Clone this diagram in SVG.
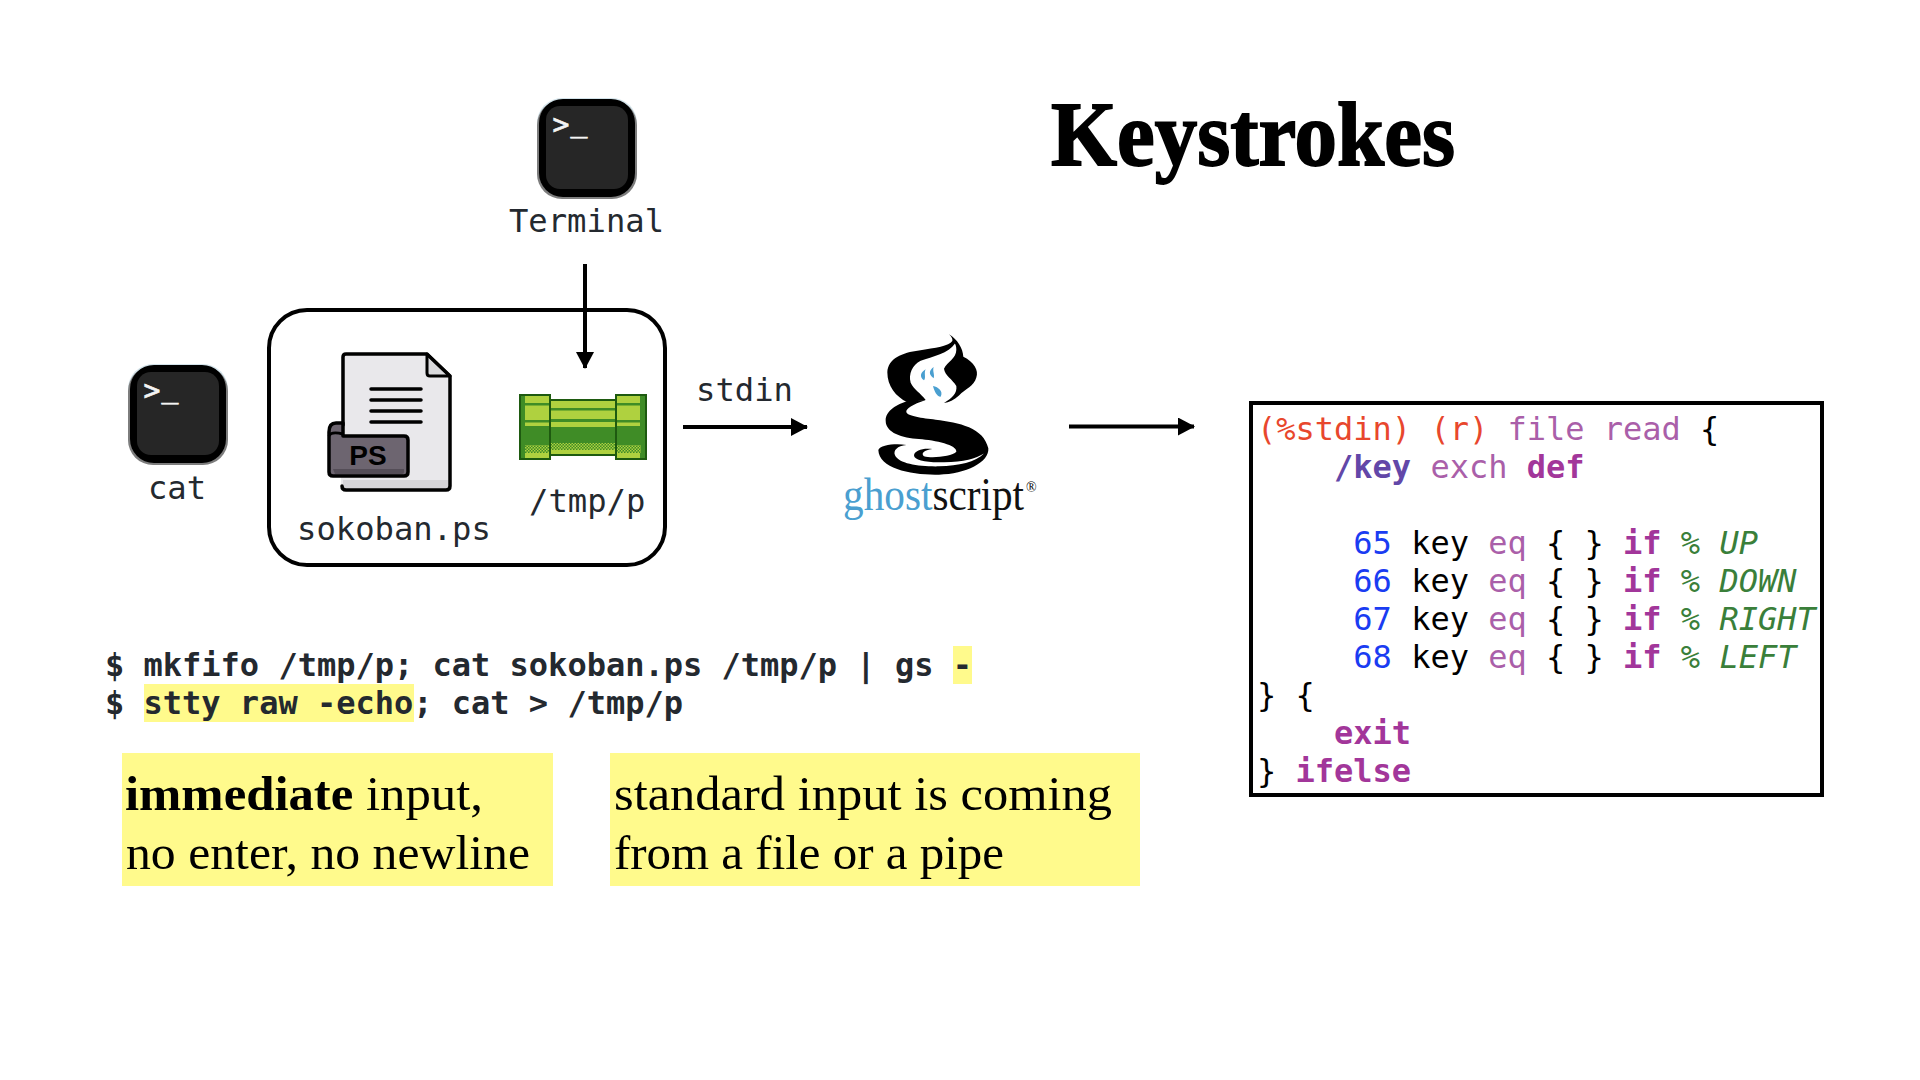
<svg xmlns="http://www.w3.org/2000/svg" width="1920" height="1080" viewBox="0 0 1920 1080">
<style>
.m{font-family:"DejaVu Sans Mono","Liberation Mono",monospace;font-size:32.2px;fill:#24292f;white-space:pre}
.b{font-weight:700}
.s{font-family:"Liberation Serif","Times New Roman",serif;fill:#000}
.c{font-family:"DejaVu Sans Mono","Liberation Mono",monospace;font-size:32px;fill:#000;white-space:pre}
.red{fill:#e8472d}.op{fill:#aa5fa9}.kw{fill:#a2369a;font-weight:700}.nm{fill:#6247a8;font-weight:700}.num{fill:#1a3cf2}.gr{fill:#3a7f3a}.it{fill:#3a7f3a;font-style:italic}
.hl{fill:#fffa8c}
.ln{stroke:#000;stroke-width:4;fill:none}
</style>
<defs>
<marker id="ah" markerUnits="userSpaceOnUse" markerWidth="18" markerHeight="18" refX="16" refY="9" orient="auto"><path d="M0,0L17,9L0,18Z" fill="#000"/></marker>
<pattern id="dith" width="3" height="3" patternUnits="userSpaceOnUse"><rect width="3" height="3" fill="#3f8c26"/><rect width="1.5" height="1.5" fill="#afd13f"/><rect x="1.5" y="1.5" width="1.5" height="1.5" fill="#afd13f"/></pattern>
<g id="termIcon">
<rect x="1" y="-1" width="100" height="99" rx="25" fill="#d3e3ea"/>
<rect x="1" y="1" width="100" height="99" rx="25" fill="#7d7d7d"/>
<rect x="3" y="0" width="96" height="98" rx="24" fill="#000"/>
<rect x="10" y="7" width="82" height="83" rx="14" fill="#262626"/>
<text font-family="DejaVu Sans Mono,monospace" font-size="28" fill="#f4f4f4" stroke="#f4f4f4" stroke-width=".7"><tspan x="16.5" y="35">&gt;</tspan><tspan x="34.5" y="32">_</tspan></text>
</g>
</defs>
<rect width="1920" height="1080" fill="#fff"/>

<g id="title"><text class="s" x="1051" y="165" font-size="92" font-weight="700" stroke="#000" stroke-width="1.8" textLength="404" lengthAdjust="spacingAndGlyphs">Keystrokes</text></g>

<g id="terminal"><use href="#termIcon" x="536" y="99"/><text class="m" x="586.5" y="231.5" text-anchor="middle">Terminal</text></g>
<g id="cat"><use href="#termIcon" x="127" y="365"/><text class="m" x="177" y="498.5" text-anchor="middle">cat</text></g>

<g id="group-box"><rect x="269" y="310" width="396" height="255" rx="38" fill="none" stroke="#000" stroke-width="4"/></g>

<g id="sokoban" transform="translate(-1 0)">
<path d="M344,356Q344,353 347,353H428L451,376V487Q451,490 448,490H348Q343,490 342,486L342,357Z" fill="#e9e8eb"/>
<path d="M344,480H451V487Q451,490 448,490H348L344,486Z" fill="#d5d4d8"/>
<path d="M428,354L451,376H431Q428,376 428,373Z" fill="#d9d9dc" stroke="#000" stroke-width="3" stroke-linejoin="round"/>
<path d="M344,425V357Q344,354 347,354H428L451,376V486Q451,490 447,490H347Q343,490 343,486" fill="none" stroke="#000" stroke-width="3.5" stroke-linecap="round" stroke-linejoin="round"/>
<path d="M372,389H422M372,400H422M372,411H422M372,422H422" stroke="#000" stroke-width="3.5" stroke-linecap="round"/>
<path d="M344,423H337Q330,423 330,432V472Q330,476 334,476H405Q409,476 409,472V440Q409,436 405,436H344Z" fill="#6d6570" stroke="#000" stroke-width="3.5" stroke-linejoin="round"/>
<path d="M330,436Q332,431 344,434" fill="none" stroke="#000" stroke-width="3"/>
<path d="M334,469H405V472Q405,474 403,474H336Z" fill="#544d57"/>
<text x="369" y="465" text-anchor="middle" font-family="Liberation Sans,sans-serif" font-size="28" font-weight="700" fill="#000">PS</text>
<text class="m" x="298" y="540">sokoban.ps</text>
</g>

<g id="pipe">
<rect x="550" y="400" width="66" height="55" fill="#afd13f" stroke="#1e5a10" stroke-width="2"/>
<rect x="551" y="408" width="64" height="2.5" fill="#3f8c26"/>
<rect x="551" y="419" width="64" height="3" fill="#3f8c26"/>
<rect x="551" y="427" width="64" height="17" fill="#3f8c26"/>
<rect x="551" y="443" width="64" height="7" fill="url(#dith)"/>
<g id="flangeL">
<rect x="520" y="395" width="30" height="64" fill="#afd13f" stroke="#1e5a10" stroke-width="2"/>
<rect x="521" y="396" width="4" height="62" fill="#3f8c26"/>
<rect x="525" y="403" width="24" height="2.5" fill="#3f8c26"/>
<rect x="525" y="420" width="24" height="2.5" fill="#3f8c26"/>
<rect x="521" y="426" width="28" height="20" fill="#3f8c26"/>
<rect x="525" y="445" width="24" height="8" fill="url(#dith)"/>
</g>
<g id="flangeR">
<rect x="616" y="395" width="30" height="64" fill="#afd13f" stroke="#1e5a10" stroke-width="2"/>
<rect x="640" y="396" width="5" height="62" fill="#3f8c26"/>
<rect x="617" y="403" width="24" height="2.5" fill="#3f8c26"/>
<rect x="617" y="420" width="24" height="2.5" fill="#3f8c26"/>
<rect x="617" y="426" width="28" height="20" fill="#3f8c26"/>
<rect x="617" y="445" width="24" height="8" fill="url(#dith)"/>
</g>
<text class="m" x="529" y="512">/tmp/p</text>
</g>

<g id="ghostscript">
<g transform="translate(869 329) scale(.3333 .346)">
<path fill="#000" d="M240,15C265,30 282,55 283,80C315,95 330,120 322,140C315,165 290,172 270,192C255,205 240,212 225,214C250,200 265,185 262,165C250,145 228,135 225,115C235,95 262,85 262,60C262,52 260,46 258,42C240,70 190,80 155,92C130,105 118,130 125,155C135,175 155,185 170,205L115,212C80,195 55,165 55,125C57,85 100,68 150,62C200,55 240,50 250,35C252,28 246,20 240,15Z"/>
<path fill="#000" d="M170,205C130,218 110,230 112,240C115,252 160,258 200,262C270,270 345,285 358,345C362,385 290,420 210,421C130,423 30,405 28,350C32,335 80,330 112,335C85,338 72,350 78,365C90,390 150,398 210,397C270,395 320,385 345,360C320,375 285,385 225,385C175,387 135,380 135,365C137,350 165,343 190,347C165,350 155,360 165,368C190,375 250,368 262,355C265,335 200,322 150,318C100,315 50,300 50,265C50,235 85,218 115,208Z"/>
<path fill="#4a9fd0" d="M170,116C155,125 150,137 165,148C172,140 164,128 170,116ZM194,110C180,120 178,132 194,142C198,132 190,122 194,110ZM192,165C196,180 203,195 215,196C224,180 208,168 192,165Z"/>
</g>
<text class="s" transform="translate(843 510) scale(.878 1)" font-size="47"><tspan fill="#4a9fd0">ghost</tspan><tspan fill="#111">script</tspan></text>
<text class="s" x="1026" y="492" font-size="14" fill="#444">®</text>
</g>

<g id="connectors">
<line class="ln" x1="585" y1="264" x2="585" y2="368" marker-end="url(#ah)"/>
<line class="ln" x1="683" y1="427" x2="807" y2="427" marker-end="url(#ah)"/>
<line class="ln" x1="1069" y1="426.5" x2="1194" y2="426.5" marker-end="url(#ah)"/>
<text class="m" x="696" y="401">stdin</text>
</g>

<g id="code">
<rect x="1251" y="403" width="571" height="392" fill="#fff" stroke="#000" stroke-width="4"/>
<text class="c" x="1257" y="439.5"><tspan class="red">(%stdin) (r) </tspan><tspan class="op">file read </tspan>{</text>
<text class="c" x="1257" y="477.5">    <tspan class="nm">/key</tspan> <tspan class="op">exch</tspan> <tspan class="kw">def</tspan></text>
<text class="c" x="1257" y="554">     <tspan class="num">65</tspan> key <tspan class="op">eq</tspan> { } <tspan class="kw">if</tspan> <tspan class="gr">%</tspan> <tspan class="it">UP</tspan></text>
<text class="c" x="1257" y="592">     <tspan class="num">66</tspan> key <tspan class="op">eq</tspan> { } <tspan class="kw">if</tspan> <tspan class="gr">%</tspan> <tspan class="it">DOWN</tspan></text>
<text class="c" x="1257" y="630">     <tspan class="num">67</tspan> key <tspan class="op">eq</tspan> { } <tspan class="kw">if</tspan> <tspan class="gr">%</tspan> <tspan class="it">RIGHT</tspan></text>
<text class="c" x="1257" y="668">     <tspan class="num">68</tspan> key <tspan class="op">eq</tspan> { } <tspan class="kw">if</tspan> <tspan class="gr">%</tspan> <tspan class="it">LEFT</tspan></text>
<text class="c" x="1257" y="706">} {</text>
<text class="c" x="1257" y="744">    <tspan class="kw">exit</tspan></text>
<text class="c" x="1257" y="782">} <tspan class="kw">ifelse</tspan></text>
</g>

<g id="commands">
<rect class="hl" x="953" y="646" width="19" height="38"/>
<rect class="hl" x="144" y="684" width="270" height="38"/>
<text class="m b" style="font-size:32px" x="105" y="676">$ mkfifo /tmp/p; cat sokoban.ps /tmp/p | gs -</text>
<text class="m b" style="font-size:32px" x="105" y="714">$ stty raw -echo; cat &gt; /tmp/p</text>
</g>

<g id="note-immediate">
<rect class="hl" x="122" y="753" width="431" height="133"/>
<text class="s" x="125" y="810" font-size="49" textLength="358" lengthAdjust="spacingAndGlyphs"><tspan font-weight="700">immediate</tspan> input,</text>
<text class="s" x="126" y="869" font-size="49" textLength="404" lengthAdjust="spacingAndGlyphs">no enter, no newline</text>
</g>
<g id="note-stdin">
<rect class="hl" x="610" y="753" width="530" height="133"/>
<text class="s" x="614" y="810" font-size="49" textLength="498" lengthAdjust="spacingAndGlyphs">standard input is coming</text>
<text class="s" x="614" y="869" font-size="49" textLength="390" lengthAdjust="spacingAndGlyphs">from a file or a pipe</text>
</g>
</svg>
